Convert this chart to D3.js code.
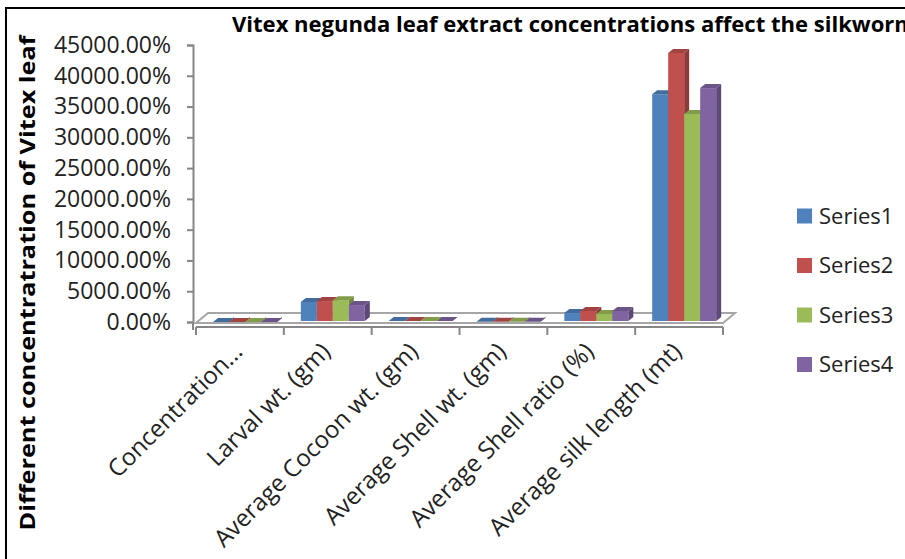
<!DOCTYPE html>
<html>
<head>
<meta charset="utf-8">
<script src="https://cdn.jsdelivr.net/npm/d3@7"></script>
<style>
  body { margin: 0; background: #fff; }
  svg { display: block; font-family: "Open Sans", Lato, sans-serif; }
</style>
</head>
<body>
<div id="chart"></div>
<script>
// 3D clustered columns: Vitex negunda leaf extract
const categories = ["Concentration...", "Larval wt. (gm)", "Average Cocoon wt. (gm)",
  "Average Shell wt. (gm)", "Average Shell ratio (%)", "Average silk length (mt)"];
const seriesNames = ["Series1", "Series2", "Series3", "Series4"];
// values as fractions (1 = 100%)
const series1 = [0.0, 32.5, 1.6, 0.3, 14.5, 370];
const series2 = [0.025, 34, 1.7, 0.32, 18, 437];
const series3 = [0.05, 35.5, 1.65, 0.3, 13, 338];
const series4 = [0.1, 27.5, 1.5, 0.25, 18, 380];
const yTickValues = [0, 50, 100, 150, 200, 250, 300, 350, 400, 450];
const colors = ["#4F81BD", "#C0504D", "#9BBB59", "#8064A2"];

const W = 905, H = 559;
const svg = d3.select("#chart").append("svg").attr("width", W).attr("height", H);

// frame (cut off at right/bottom)
svg.append("rect").attr("x", 6).attr("y", 8).attr("width", 1000).attr("height", 1000)
  .attr("fill", "none").attr("stroke", "#000").attr("stroke-width", 2);

const x = d3.scaleBand().domain(categories).range([196, 723]);
const xs = d3.scaleBand().domain(seriesNames).range([17, 81]);
const y = d3.scaleLinear().domain([0, 450]).range([322, 45]);
const base = y(0) - 1, dx = 5, dy = 4;

// floor
const fl = [[196, 323], [723, 323], [735, 313], [208, 313]];
svg.append("path").attr("d", "M" + fl.join("L") + "Z")
  .attr("fill", "#fff").attr("stroke", "#a6a6a6").attr("stroke-width", 2);

// value axis
svg.append("g").attr("transform", "translate(193,0)")
  .call(d3.axisLeft(y).tickValues(yTickValues).tickSize(6).tickPadding(16)
    .tickFormat(d => (d * 100).toFixed(2) + "%"))
  .call(g => g.selectAll("path,line").attr("stroke", "#868686").attr("stroke-width", 2))
  .call(g => g.selectAll("text").attr("font-size", 23).attr("fill", "#222")
    .attr("font-family", "Open Sans"));

// category axis with ticks at band edges
const edges = categories.map(c => x(c)).concat([x.range()[1]]);
const cat = svg.append("g");
cat.append("line").attr("x1", x.range()[0]).attr("x2", x.range()[1])
  .attr("y1", 327).attr("y2", 327).attr("stroke", "#868686").attr("stroke-width", 2);
cat.selectAll(".tk").data(edges).join("line")
  .attr("x1", d => d).attr("x2", d => d).attr("y1", 327).attr("y2", 335)
  .attr("stroke", "#868686").attr("stroke-width", 2);
svg.append("line").attr("x1", 193).attr("x2", 193).attr("y1", 322).attr("y2", 330)
  .attr("stroke", "#868686").attr("stroke-width", 2);

cat.selectAll(".lbl").data(categories).join("text")
  .attr("transform", d => `translate(${x(d) + x.bandwidth() / 2 + 4},353) rotate(-45)`)
  .attr("text-anchor", "end").attr("font-size", 24).attr("fill", "#222")
  .text(d => d);

// bars
const data = [series1, series2, series3, series4];
categories.forEach((c, i) => {
  seriesNames.forEach((s, j) => {
    const v = data[j][i];
    const x0 = x(c) + xs(s), w = xs.bandwidth(), top = y(v);
    const col = d3.color(colors[j]);
    const g = svg.append("g");
    g.append("path")
      .attr("d", `M${x0 + w},${base}L${x0 + w + dx},${base - dy}L${x0 + w + dx},${top - dy}L${x0 + w},${top}Z`)
      .attr("fill", col.darker(0.9));
    g.append("rect").attr("x", x0).attr("y", top).attr("width", w).attr("height", base - top)
      .attr("fill", colors[j]);
    g.append("path")
      .attr("d", `M${x0},${top}L${x0 + w},${top}L${x0 + w + dx},${top - dy}L${x0 + dx},${top - dy}Z`)
      .attr("fill", col.darker(0.5));
  });
});

// title (runs past the right edge, as in the source)
svg.append("text").attr("x", 232).attr("y", 32).attr("font-size", 22).attr("font-weight", "bold")
  .attr("textLength", 684).attr("lengthAdjust", "spacingAndGlyphs")
  .attr("fill", "#000").text("Vitex negunda leaf extract concentrations affect the silkworm");

svg.append("text").attr("transform", "translate(35,283) rotate(-90)")
  .attr("text-anchor", "middle").attr("font-size", 22).attr("font-weight", "bold")
  .attr("textLength", 495).attr("lengthAdjust", "spacingAndGlyphs")
  .attr("fill", "#000").text("Different concentratration of Vitex leaf");

// legend
const lg = svg.append("g").selectAll("g").data(seriesNames).join("g")
  .attr("transform", (d, i) => `translate(797,${216 + i * 49.5})`);
lg.append("rect").attr("x", 0).attr("y", -7.5).attr("width", 15).attr("height", 15)
  .attr("fill", (d, i) => colors[i]);
lg.append("text").attr("x", 22).attr("y", 0).attr("dy", "0.36em").attr("font-size", 22)
  .attr("fill", "#222").text(d => d);
</script>
</body>
</html>
